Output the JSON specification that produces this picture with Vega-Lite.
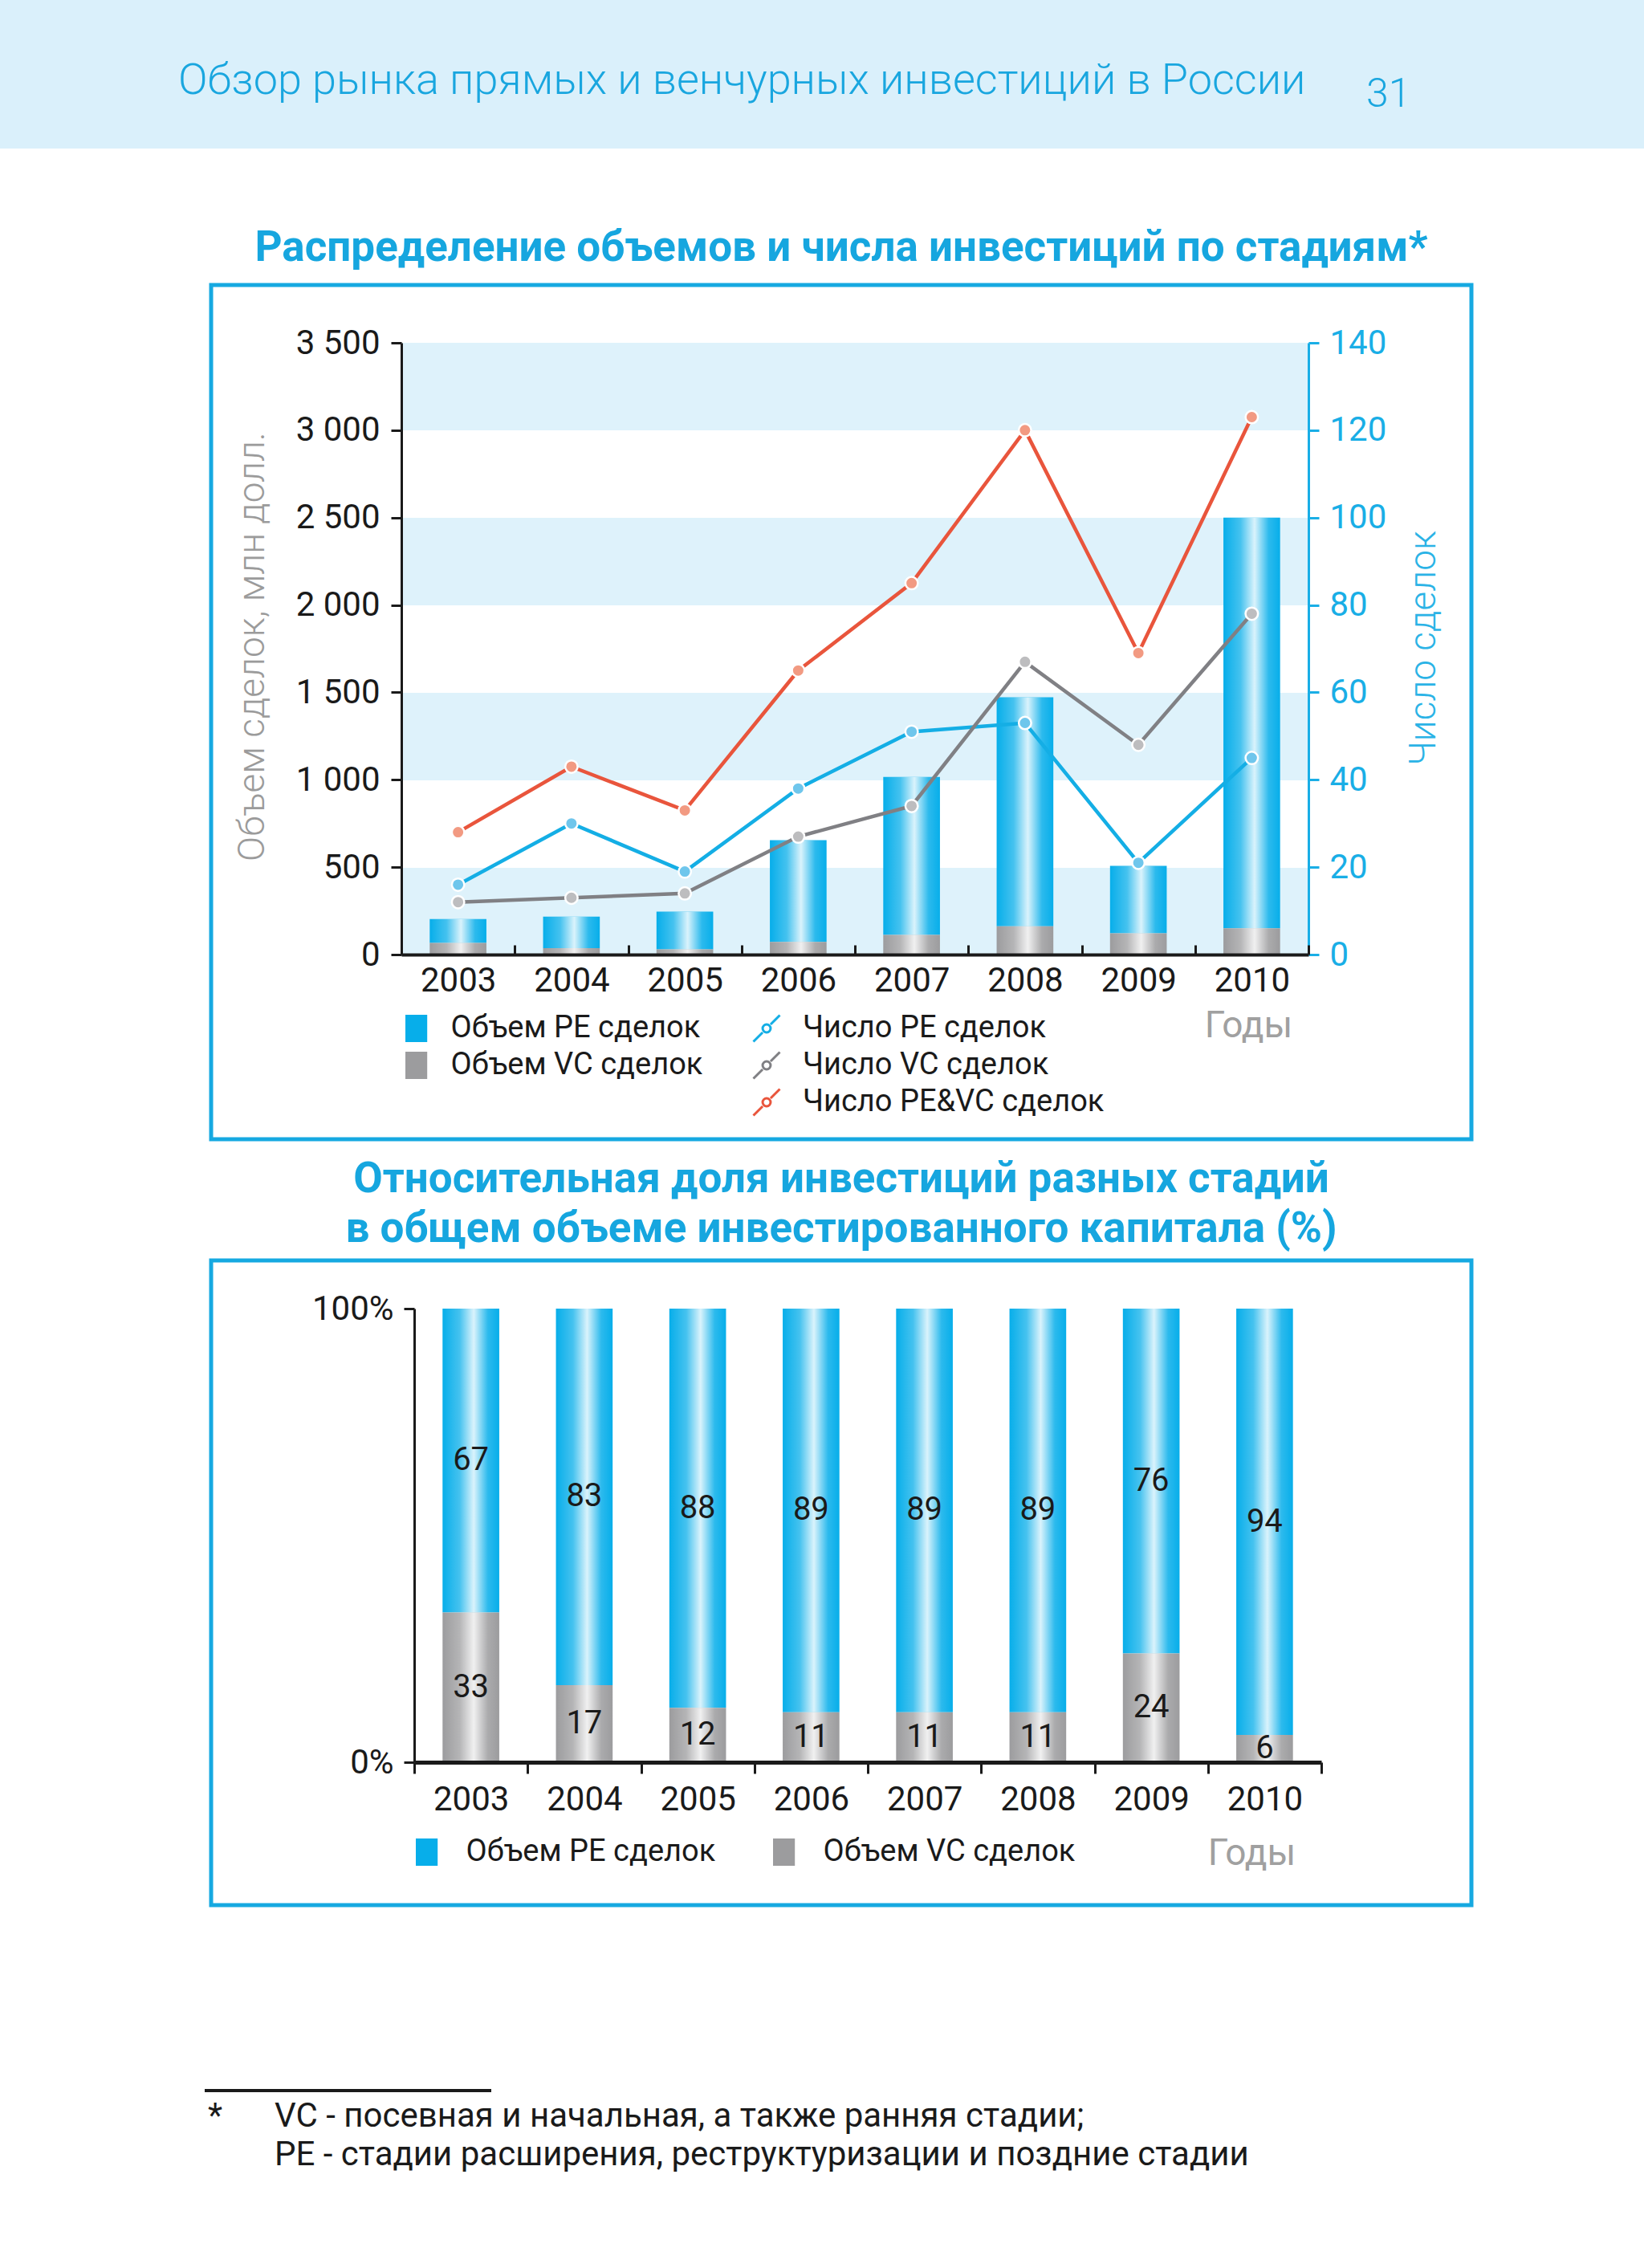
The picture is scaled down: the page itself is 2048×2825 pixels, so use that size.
{
  "$schema": "https://vega.github.io/schema/vega-lite/v6.json",
  "background": "white",
  "padding": 0,
  "autosize": {"type": "pad"},
  "config": {
    "font": "Roboto",
    "view": {"stroke": null},
    "axis": {"labelFont": "Roboto", "titleFont": "Roboto"},
    "legend": {"labelFont": "Roboto", "labelLimit": 800},
    "title": {"font": "Roboto"}
  },
  "datasets": {
    "vol": [
      {"year": "2003", "series": "Объем PE сделок", "vol": 136},
      {"year": "2003", "series": "Объем VC сделок", "vol": 67},
      {"year": "2004", "series": "Объем PE сделок", "vol": 180},
      {"year": "2004", "series": "Объем VC сделок", "vol": 37},
      {"year": "2005", "series": "Объем PE сделок", "vol": 216},
      {"year": "2005", "series": "Объем VC сделок", "vol": 30},
      {"year": "2006", "series": "Объем PE сделок", "vol": 583},
      {"year": "2006", "series": "Объем VC сделок", "vol": 72},
      {"year": "2007", "series": "Объем PE сделок", "vol": 904},
      {"year": "2007", "series": "Объем VC сделок", "vol": 112},
      {"year": "2008", "series": "Объем PE сделок", "vol": 1310},
      {"year": "2008", "series": "Объем VC сделок", "vol": 162},
      {"year": "2009", "series": "Объем PE сделок", "vol": 385},
      {"year": "2009", "series": "Объем VC сделок", "vol": 122},
      {"year": "2010", "series": "Объем PE сделок", "vol": 2350},
      {"year": "2010", "series": "Объем VC сделок", "vol": 150}
    ],
    "cnt": [
      {"year": "2003", "series": "Число PE сделок", "n": 16},
      {"year": "2004", "series": "Число PE сделок", "n": 30},
      {"year": "2005", "series": "Число PE сделок", "n": 19},
      {"year": "2006", "series": "Число PE сделок", "n": 38},
      {"year": "2007", "series": "Число PE сделок", "n": 51},
      {"year": "2008", "series": "Число PE сделок", "n": 53},
      {"year": "2009", "series": "Число PE сделок", "n": 21},
      {"year": "2010", "series": "Число PE сделок", "n": 45},
      {"year": "2003", "series": "Число VC сделок", "n": 12},
      {"year": "2004", "series": "Число VC сделок", "n": 13},
      {"year": "2005", "series": "Число VC сделок", "n": 14},
      {"year": "2006", "series": "Число VC сделок", "n": 27},
      {"year": "2007", "series": "Число VC сделок", "n": 34},
      {"year": "2008", "series": "Число VC сделок", "n": 67},
      {"year": "2009", "series": "Число VC сделок", "n": 48},
      {"year": "2010", "series": "Число VC сделок", "n": 78},
      {"year": "2003", "series": "Число PE&VC сделок", "n": 28},
      {"year": "2004", "series": "Число PE&VC сделок", "n": 43},
      {"year": "2005", "series": "Число PE&VC сделок", "n": 33},
      {"year": "2006", "series": "Число PE&VC сделок", "n": 65},
      {"year": "2007", "series": "Число PE&VC сделок", "n": 85},
      {"year": "2008", "series": "Число PE&VC сделок", "n": 120},
      {"year": "2009", "series": "Число PE&VC сделок", "n": 69},
      {"year": "2010", "series": "Число PE&VC сделок", "n": 123}
    ],
    "share": [
      {"year": "2003", "series": "Объем PE сделок", "pct": 67},
      {"year": "2003", "series": "Объем VC сделок", "pct": 33},
      {"year": "2004", "series": "Объем PE сделок", "pct": 83},
      {"year": "2004", "series": "Объем VC сделок", "pct": 17},
      {"year": "2005", "series": "Объем PE сделок", "pct": 88},
      {"year": "2005", "series": "Объем VC сделок", "pct": 12},
      {"year": "2006", "series": "Объем PE сделок", "pct": 89},
      {"year": "2006", "series": "Объем VC сделок", "pct": 11},
      {"year": "2007", "series": "Объем PE сделок", "pct": 89},
      {"year": "2007", "series": "Объем VC сделок", "pct": 11},
      {"year": "2008", "series": "Объем PE сделок", "pct": 89},
      {"year": "2008", "series": "Объем VC сделок", "pct": 11},
      {"year": "2009", "series": "Объем PE сделок", "pct": 76},
      {"year": "2009", "series": "Объем VC сделок", "pct": 24},
      {"year": "2010", "series": "Объем PE сделок", "pct": 94},
      {"year": "2010", "series": "Объем VC сделок", "pct": 6}
    ]
  },
  "spacing": 95,
  "resolve": {"scale": {"color": "independent", "fill": "independent"}, "legend": {"color": "independent", "fill": "independent"}},
  "vconcat": [
    {
      "spacing": 0,
      "hconcat": [
        {
          "width": 1660, "height": 185,
          "data": {"values": [{}]},
          "mark": {"type": "rect", "color": "#daf0fb"},
          "encoding": {},
          "title": {"text": "Обзор рынка прямых и венчурных инвестиций в России", "orient": "top", "anchor": "start", "frame": "group", "offset": -171, "dx": 222, "baseline": "alphabetic", "fontSize": 54, "fontWeight": 300, "color": "#19a6df"}
        },
        {
          "width": 388, "height": 185,
          "data": {"values": [{}]},
          "mark": {"type": "rect", "color": "#daf0fb"},
          "encoding": {},
          "title": {"text": "31", "orient": "top", "anchor": "start", "frame": "group", "offset": -183, "dx": 42, "baseline": "alphabetic", "fontSize": 50, "fontWeight": 300, "color": "#19a6df"}
        }
      ]
    },
    {
      "spacing": 18,
      "resolve": {"scale": {"color": "independent", "fill": "independent"}, "legend": {"color": "independent", "fill": "independent"}},
      "vconcat": [
        {
          "spacing": 0,
          "resolve": {"scale": {"color": "independent", "fill": "independent"}, "legend": {"color": "independent", "fill": "independent"}},
          "hconcat": [
            {"width": 260, "height": 10, "data": {"values": [{}]}, "mark": {"type": "rect", "opacity": 0}, "encoding": {}},
            {
              "width": 1570, "height": 1064,
              "view": {"stroke": "#16a9e1", "strokeWidth": 5},
              "title": {"text": "Распределение объемов и числа инвестиций по стадиям*", "anchor": "middle", "frame": "group", "offset": -23, "baseline": "alphabetic", "fontSize": 53, "fontWeight": "bold", "color": "#16a6df"},
              "layer": [
                {
                  "layer": [
                    {
                      "data": {"name": "vol"},
                      "mark": {"type": "bar", "width": {"band": 0.5}},
                      "encoding": {
                        "x": {
                          "field": "year", "type": "ordinal",
                          "scale": {"range": [237, 1367], "paddingInner": 0, "paddingOuter": 0},
                          "axis": {"orient": "bottom", "offset": -230, "title": "Годы", "titleX": 1292, "titleY": 88, "titleAlign": "center", "titleBaseline": "middle", "titleFontSize": 46, "titleFontWeight": 400, "titleColor": "#a0a0a0", "labelAngle": 0, "labelFontSize": 42, "labelColor": "#1a1a1a", "labelPadding": 24, "tickBand": "extent", "tickSize": -12, "tickWidth": 3, "tickColor": "#1a1a1a", "domainColor": "#1a1a1a", "domainWidth": 4, "zindex": 1}
                        },
                        "y": {
                          "field": "vol", "type": "quantitative", "stack": "zero",
                          "scale": {"domain": [0, 3500], "range": [834, 72], "nice": false},
                          "axis": {
                            "values": [0, 250, 500, 750, 1000, 1250, 1500, 1750, 2000, 2250, 2500, 2750, 3000, 3250, 3500],
                            "title": "Объем сделок, млн долл.", "titleX": -186, "titleY": 450, "titleAngle": 270, "titleAlign": "center", "titleBaseline": "middle", "titleFontSize": 46, "titleFontWeight": 300, "titleColor": "#9b9b9b",
                            "offset": -237,
                            "domainColor": "#1a1a1a", "domainWidth": 3,
                            "tickColor": "#1a1a1a", "tickWidth": 3, "tickSize": 13,
                            "tickOpacity": {"condition": {"test": "datum.value % 500 === 0", "value": 1}, "value": 0},
                            "labelExpr": "datum.value % 500 === 0 ? replace(format(datum.value, ','), ',', ' ') : ''",
                            "labelFontSize": 42, "labelColor": "#1a1a1a", "labelPadding": 14, "labelOverlap": false,
                            "grid": true, "gridColor": "#def2fb", "gridWidth": 108.86,
                            "gridOpacity": {"condition": {"test": "datum.value % 1000 === 250", "value": 1}, "value": 0},
                            "zindex": 0
                          }
                        },
                        "color": {
                          "field": "series", "type": "nominal",
                          "scale": {"domain": ["Объем PE сделок", "Объем VC сделок"], "range": ["#07aeea", "#9c9c9e"]},
                          "legend": {"orient": "none", "legendX": 236.6, "legendY": 907, "title": null, "symbolType": "M-0.8,-1H0.8V1H-0.8Z", "symbolSize": 1156, "symbolStrokeWidth": 0, "labelFontSize": 38, "labelColor": "#1a1a1a", "labelOffset": 24, "rowPadding": 8, "padding": 0, "labelLimit": 800}
                        },
                        "order": {"field": "series", "sort": "descending"}
                      }
                    },
                    {
                      "data": {"name": "vol"},
                      "mark": {"type": "bar", "width": {"band": 0.5}, "fill": {"gradient": "linear", "x1": 0, "x2": 1, "y1": 0, "y2": 0, "stops": [{"offset": 0, "color": "rgba(255,255,255,0)"}, {"offset": 0.3, "color": "rgba(255,255,255,0.25)"}, {"offset": 0.55, "color": "rgba(255,255,255,0.85)"}, {"offset": 0.8, "color": "rgba(255,255,255,0.15)"}, {"offset": 1, "color": "rgba(255,255,255,0)"}]}},
                      "encoding": {
                        "x": {"field": "year", "type": "ordinal"},
                        "y": {"field": "vol", "type": "quantitative", "stack": "zero"},
                        "detail": {"field": "series"},
                        "order": {"field": "series", "sort": "descending"}
                      }
                    }
                  ]
                },
                {
                  "data": {"name": "cnt"},
                  "layer": [
                    {
                      "mark": {"type": "line", "strokeWidth": 4.5},
                      "encoding": {
                        "x": {"field": "year", "type": "ordinal"},
                        "y": {
                          "field": "n", "type": "quantitative",
                          "scale": {"domain": [0, 140], "range": [834, 72], "nice": false},
                          "axis": {"orient": "right", "values": [0, 20, 40, 60, 80, 100, 120, 140], "offset": -203, "title": "Число сделок", "titleX": 143, "titleY": 452, "titleAngle": 270, "titleAlign": "center", "titleBaseline": "middle", "titleFontSize": 46, "titleFontWeight": 300, "titleColor": "#2bb3e6", "domainColor": "#19aee6", "domainWidth": 3, "tickColor": "#19aee6", "tickSize": 13, "tickWidth": 3, "labelColor": "#19aee6", "labelFontSize": 42, "labelPadding": 13, "grid": false, "labelOverlap": false}
                        },
                        "color": {
                          "field": "series", "type": "nominal",
                          "scale": {"domain": ["Число PE сделок", "Число VC сделок", "Число PE&VC сделок"], "range": ["#14aee5", "#808084", "#e9553c"]},
                          "legend": {"orient": "none", "legendX": 673, "legendY": 907, "title": null, "symbolType": "M-1,1L-0.3,0.3M0.3,-0.3L1,-1M-0.3,0A0.3,0.3,0,1,1,0.3,0A0.3,0.3,0,1,1,-0.3,0", "symbolSize": 1089, "symbolStrokeWidth": 3, "symbolFillColor": "#ffffff", "labelFontSize": 38, "labelColor": "#1a1a1a", "labelOffset": 26, "rowPadding": 0, "padding": 0, "labelLimit": 800}
                        }
                      }
                    },
                    {
                      "mark": {"type": "point", "filled": true, "size": 240, "stroke": "#ffffff", "strokeWidth": 2.5, "opacity": 1},
                      "encoding": {
                        "x": {"field": "year", "type": "ordinal"},
                        "y": {"field": "n", "type": "quantitative"},
                        "fill": {
                          "field": "series", "type": "nominal",
                          "scale": {"domain": ["Число PE сделок", "Число VC сделок", "Число PE&VC сделок"], "range": ["#6fc6ec", "#bdbdbf", "#f29a82"]},
                          "legend": null
                        }
                      }
                    }
                  ]
                }
              ],
              "resolve": {"scale": {"y": "independent", "color": "independent"}}
            }
          ]
        },
        {
          "spacing": 226,
          "resolve": {"scale": {"color": "independent", "fill": "independent"}, "legend": {"color": "independent", "fill": "independent"}},
          "vconcat": [
            {
              "spacing": 0,
              "resolve": {"scale": {"color": "independent", "fill": "independent"}, "legend": {"color": "independent", "fill": "independent"}},
              "hconcat": [
                {"width": 260, "height": 10, "data": {"values": [{}]}, "mark": {"type": "rect", "opacity": 0}, "encoding": {}},
                {
                  "width": 1570, "height": 803,
                  "view": {"stroke": "#16a9e1", "strokeWidth": 5},
                  "title": {"text": ["Относительная доля инвестиций разных стадий", "в общем объеме инвестированного капитала (%)"], "anchor": "middle", "frame": "group", "offset": -30, "baseline": "alphabetic", "lineHeight": 62, "fontSize": 53, "fontWeight": "bold", "color": "#16a6df"},
                  "data": {"name": "share"},
                  "layer": [
                    {
                      "mark": {"type": "bar", "width": {"band": 0.5}},
                      "encoding": {
                        "x": {
                          "field": "year", "type": "ordinal",
                          "scale": {"range": [253, 1383], "paddingInner": 0, "paddingOuter": 0},
                          "axis": {"orient": "bottom", "offset": -178, "title": "Годы", "titleX": 1296, "titleY": 113, "titleAlign": "center", "titleBaseline": "middle", "titleFontSize": 46, "titleFontWeight": 400, "titleColor": "#a0a0a0", "labelAngle": 0, "labelFontSize": 42, "labelColor": "#1a1a1a", "labelPadding": 12, "tickBand": "extent", "tickSize": 14, "tickWidth": 3, "tickColor": "#1a1a1a", "domainColor": "#1a1a1a", "domainWidth": 5, "zindex": 1}
                        },
                        "y": {
                          "field": "pct", "type": "quantitative", "stack": "zero",
                          "scale": {"domain": [0, 100], "range": [625, 60], "nice": false},
                          "axis": {"values": [0, 100], "labelExpr": "datum.value + '%'", "offset": -253, "title": null, "domainColor": "#1a1a1a", "domainWidth": 3, "tickColor": "#1a1a1a", "tickWidth": 3, "tickSize": 13, "labelFontSize": 42, "labelColor": "#1a1a1a", "labelPadding": 13, "grid": false, "labelOverlap": false}
                        },
                        "color": {
                          "field": "series", "type": "nominal",
                          "scale": {"domain": ["Объем PE сделок", "Объем VC сделок"], "range": ["#07aeea", "#9c9c9e"]},
                          "legend": {"orient": "none", "legendX": 249.6, "legendY": 718, "direction": "horizontal", "title": null, "symbolType": "M-0.8,-1H0.8V1H-0.8Z", "symbolSize": 1156, "symbolStrokeWidth": 0, "labelFontSize": 38, "labelColor": "#1a1a1a", "labelOffset": 30, "columnPadding": 66, "padding": 0, "labelLimit": 800}
                        },
                        "order": {"field": "series", "sort": "descending"}
                      }
                    },
                    {
                      "mark": {"type": "bar", "width": {"band": 0.5}, "fill": {"gradient": "linear", "x1": 0, "x2": 1, "y1": 0, "y2": 0, "stops": [{"offset": 0, "color": "rgba(255,255,255,0)"}, {"offset": 0.3, "color": "rgba(255,255,255,0.25)"}, {"offset": 0.55, "color": "rgba(255,255,255,0.85)"}, {"offset": 0.8, "color": "rgba(255,255,255,0.15)"}, {"offset": 1, "color": "rgba(255,255,255,0)"}]}},
                      "encoding": {
                        "x": {"field": "year", "type": "ordinal"},
                        "y": {"field": "pct", "type": "quantitative", "stack": "zero"},
                        "detail": {"field": "series"},
                        "order": {"field": "series", "sort": "descending"}
                      }
                    },
                    {
                      "mark": {"type": "text", "fontSize": 40, "color": "#1a1a1a", "baseline": "middle", "font": "Roboto"},
                      "encoding": {
                        "x": {"field": "year", "type": "ordinal"},
                        "y": {"field": "pct", "type": "quantitative", "stack": "zero", "bandPosition": 0.5},
                        "detail": {"field": "series"},
                        "order": {"field": "series", "sort": "descending"},
                        "text": {"field": "pct", "type": "quantitative"}
                      }
                    }
                  ]
                }
              ]
            },
            {
              "spacing": 0,
              "bounds": "flush",
              "hconcat": [
                {
                  "width": 255, "height": 4,
                  "data": {"values": [{}]},
                  "mark": {"type": "rect", "opacity": 0},
                  "encoding": {},
                  "title": {"text": "*", "orient": "bottom", "anchor": "end", "frame": "group", "offset": 43, "dx": 22, "baseline": "alphabetic", "fontSize": 42, "fontWeight": 400, "color": "#1a1a1a"}
                },
                {
                  "width": 357, "height": 4,
                  "data": {"values": [{}]},
                  "mark": {"type": "rect", "color": "#1a1a1a"},
                  "encoding": {},
                  "title": {"text": ["VC - посевная и начальная, а также ранняя стадии;", "PE - стадии расширения, реструктуризации и поздние стадии"], "orient": "bottom", "anchor": "start", "frame": "group", "offset": 43, "dx": 87, "baseline": "alphabetic", "lineHeight": 48, "fontSize": 42, "fontWeight": 400, "color": "#1a1a1a"}
                }
              ]
            }
          ]
        }
      ]
    }
  ]
}
